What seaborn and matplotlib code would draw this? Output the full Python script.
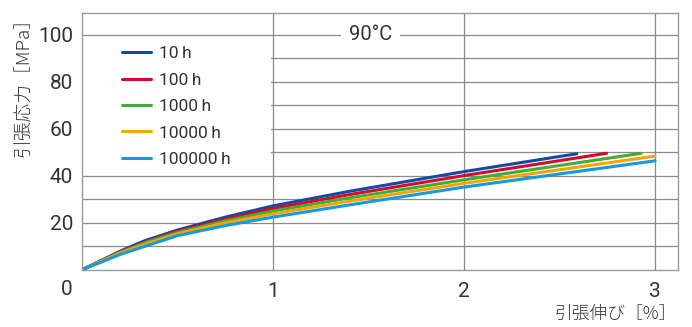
import numpy as np
import pandas as pd
import matplotlib
matplotlib.use("Agg")
import matplotlib.pyplot as plt
from matplotlib.patches import Rectangle
import seaborn as sns

# Creep isochronous stress-strain curves at 90 °C
series = ["10\u2009h", "100\u2009h", "1000\u2009h", "10000\u2009h", "100000\u2009h"]

strain_10h = [0, 0.10, 0.20, 0.33, 0.50, 0.75, 1.00, 1.40, 2.00, 2.59]
stress_10h = [0, 3.9, 7.9, 12.4, 16.9, 22.4, 27.2, 33.4, 41.8, 49.4]

strain_100h = [0, 0.10, 0.20, 0.34, 0.50, 0.75, 1.00, 1.40, 2.00, 2.746]
stress_100h = [0, 3.8, 7.6, 12.1, 16.4, 21.6, 26.1, 32.0, 40.1, 49.6]

strain_1000h = [0, 0.10, 0.20, 0.34, 0.50, 0.75, 1.00, 1.40, 2.00, 2.927]
stress_1000h = [0, 3.7, 7.4, 11.8, 15.9, 20.8, 25.0, 30.6, 38.3, 49.6]

strain_10000h = [0, 0.10, 0.20, 0.35, 0.50, 0.75, 1.00, 1.40, 2.00, 3.00]
stress_10000h = [0, 3.5, 7.1, 11.4, 15.3, 20.0, 23.8, 29.2, 36.8, 48.4]

strain_100000h = [0, 0.10, 0.20, 0.36, 0.50, 0.75, 1.00, 1.40, 2.00, 3.00]
stress_100000h = [0, 3.2, 6.5, 10.8, 14.5, 18.8, 22.4, 27.6, 35.2, 46.4]

colors = ["#0c4da2", "#d7072d", "#40ad3a", "#f6a500", "#139ae0"]

y_ticks = [20, 40, 60, 80, 100]
x_ticks = [1, 2, 3]
temperature_label = "90°C"

frames = []
for name, xs, ys in zip(
    series,
    [strain_10h, strain_100h, strain_1000h, strain_10000h, strain_100000h],
    [stress_10h, stress_100h, stress_1000h, stress_10000h, stress_100000h],
):
    frames.append(pd.DataFrame({"strain": xs, "stress": ys, "time": name}))
df = pd.concat(frames, ignore_index=True)

sns.set_style("white")
latin = "Roboto"
cjk = "Noto Sans CJK JP"
plt.rcParams["font.family"] = [latin, cjk, "DejaVu Sans"]
text_color = "#333333"

fig = plt.figure(figsize=(6.92, 3.27), dpi=100)
ax = fig.add_axes([82 / 692, 1 - 269.7 / 327, 596 / 692, 257 / 327])

sns.lineplot(
    data=df, x="strain", y="stress", hue="time", hue_order=series,
    palette=dict(zip(series, colors)), estimator=None, sort=False,
    linewidth=2.2, ax=ax, legend=True,
)

ax.set_xlim(0, 3.12)
ax.set_ylim(0, 109.5)

grid_color = "#8a8a8a"
ax.set_yticks(np.arange(10, 110, 10))
ax.set_yticklabels([str(v) if v in y_ticks else "" for v in range(10, 110, 10)])
ax.set_xticks(x_ticks)
ax.set_xticklabels([str(v) for v in x_ticks])
ax.grid(True, color=grid_color, linewidth=0.9)
ax.set_axisbelow(True)
ax.tick_params(length=0, labelsize=15, labelcolor=text_color)
ax.tick_params(axis="y", pad=6.5)
ax.tick_params(axis="x", pad=9)
for s in ax.spines.values():
    s.set_visible(True)
    s.set_color("#9a9a9a")
    s.set_linewidth(1.0)

ax.set_xlabel("")
ax.set_ylabel("")

# blank panel behind the legend
ax.add_patch(Rectangle((0.005, 41), 0.985, 58, facecolor="white",
                       edgecolor="none", zorder=1))

sns.move_legend(
    ax, "upper left", bbox_to_anchor=(0.067, 0.870), frameon=False,
    title=None, fontsize=12.5, handlelength=1.65, handletextpad=0.5,
    labelspacing=0.65, borderpad=0, borderaxespad=0,
)
leg = ax.get_legend()
for t in leg.get_texts():
    t.set_color(text_color)
for h in leg.get_lines():
    h.set_linewidth(2.2)

ax.text(1.51, 100, temperature_label, ha="center", va="center",
        fontsize=14.5, color=text_color,
        bbox=dict(facecolor="white", edgecolor="none", pad=6), zorder=3)

ax.annotate("0", xy=(0, 0), xytext=(-15, -19.5), textcoords="offset pixels",
            ha="center", va="center", fontsize=15, color=text_color,
            annotation_clip=False)

fig.text(24 / 692, 1 - 157 / 327, "引張応力［MPa］", rotation=90,
         ha="center", va="bottom", fontsize=13.5, fontweight="light",
         color=text_color, family=[cjk, "DejaVu Sans"])
fig.text(677 / 692, 1 - 314 / 327, "引張伸び［%］", ha="right",
         va="center", fontsize=12.8, fontweight="light", color=text_color,
         family=[cjk, "DejaVu Sans"])

fig.savefig("out.png", dpi=100)
